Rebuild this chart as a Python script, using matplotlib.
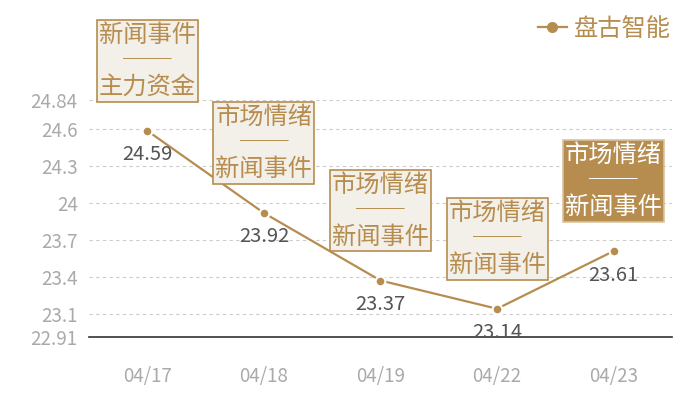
import numpy as np
import matplotlib
matplotlib.use("Agg")
import matplotlib.pyplot as plt

plt.rcParams['font.family'] = ['Noto Sans CJK SC', 'DejaVu Sans']
plt.rcParams['font.weight'] = 'light'

# data
dates = ['04/17', '04/18', '04/19', '04/22', '04/23']
prices = [24.59, 23.92, 23.37, 23.14, 23.61]
events = ['新闻事件\n──\n主力资金',
          '市场情绪\n──\n新闻事件',
          '市场情绪\n──\n新闻事件',
          '市场情绪\n──\n新闻事件',
          '市场情绪\n──\n新闻事件']
yticks = [22.91, 23.1, 23.4, 23.7, 24, 24.3, 24.6, 24.84]
ytick_labels = ['22.91', '23.1', '23.4', '23.7', '24', '24.3', '24.6', '24.84']
series_name = '盘古智能'

gold = '#b68d4f'
light_fill = '#f3efe9'

fig = plt.figure(figsize=(7, 4), dpi=100)
ax = fig.add_axes([0.127, 0.1575, 0.833, 0.5925])

x = np.arange(len(dates))
ax.plot(x, prices, color=gold, lw=1.6, marker='o', ms=7,
        mfc=gold, mec='white', mew=1.5, zorder=3)
# legend handle without white ring
ax.plot([], [], color=gold, lw=1.6, marker='o', ms=7, mfc=gold, mec=gold,
        label=series_name)

for i, (xi, yi) in enumerate(zip(x, prices)):
    ax.annotate(f'{yi:.2f}', (xi, yi), xytext=(0, -24), textcoords='offset pixels',
                ha='center', va='center', fontsize=14.5, color='#555555', zorder=4)
    last = i == len(x) - 1
    ax.annotate(events[i], (xi, yi), xytext=(0, 70), textcoords='offset pixels',
                ha='center', va='center', fontsize=17.5, linespacing=1.0,
                color='white' if last else gold, annotation_clip=False,
                bbox=dict(boxstyle='square,pad=0.08',
                          fc=gold if last else light_fill,
                          ec='#d8c3a0' if last else gold, lw=1.2),
                zorder=5)

ax.set_xlim(-0.5, len(dates) - 0.5)
ax.set_ylim(yticks[0], yticks[-1])
ax.set_xticks(x)
ax.set_xticklabels(dates)
ax.set_yticks(yticks)
ax.set_yticklabels(ytick_labels)
ax.tick_params(axis='both', length=0, labelsize=13.5, colors='#aaaaaa')
ax.tick_params(axis='x', pad=21)
ax.tick_params(axis='y', pad=8)

ax.grid(axis='y', ls=(0, (3, 3)), color='#cccccc', lw=0.8)
for s in ['top', 'right', 'left']:
    ax.spines[s].set_visible(False)
ax.spines['bottom'].set_color('#333333')
ax.spines['bottom'].set_linewidth(1.2)

leg = fig.legend(loc='upper right', bbox_to_anchor=(0.99, 1.015), frameon=False,
                 fontsize=17.5, handlelength=1.2, handletextpad=0.3)
for t in leg.get_texts():
    t.set_color(gold)

fig.savefig('out.png', dpi=100)
